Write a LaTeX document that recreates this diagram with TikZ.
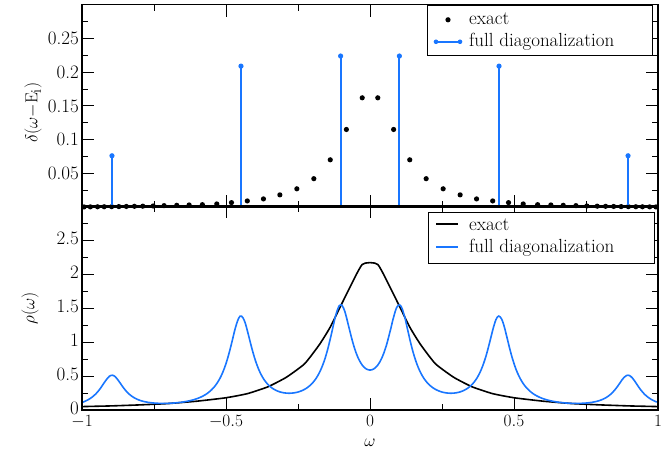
\documentclass[tikz,border=0pt]{standalone}
\definecolor{fdblue}{RGB}{25,118,255}
\begin{document}
\begin{tikzpicture}[x=1pt,y=1pt,
  lbl/.style={font=\fontsize{19}{19}\selectfont, inner sep=1pt},
  fdline/.style={fdblue, line width=1.6pt},
  exline/.style={black, line width=1.6pt},
  axis/.style={line width=1.2pt},
  tk/.style={line width=0.9pt}]
\useasboundingbox (0,0) rectangle (664,452);
\pgfmathdeclarefunction{lz}{2}{\pgfmathparse{0.05/pi/((#1-#2)^2+0.0025)}}
% ---------- top panel ----------
\begin{scope}[shift={(370,245)}, x=288pt, y=674pt]
  \foreach \o/\v in {0.027/.162,0.082/.115,0.138/.070,0.195/.042,0.254/.027,0.313/.018,0.370/.012,0.426/.009,0.481/.0065,0.532/.0045,0.582/.0035,0.628/.003,0.671/.0025,0.715/.002,0.753/.0015,0.789/.0012,0.818/.001,0.846/.0008,0.872/.0006,0.897/.0005,0.923/.0004,0.946/.0003,0.971/.0002,0.993/.0001}{
    \fill (\o,\v) circle (2.6pt);
    \fill (-\o,\v) circle (2.6pt);
  }
  \foreach \e/\w in {-0.896/0.076,-0.448/0.209,-0.102/0.224,0.102/0.224,0.448/0.209,0.896/0.076}{
    \fill[fdblue] ([xshift=-1pt]\e,0) rectangle ([xshift=1pt]\e,\w);
    \fill[fdblue] (\e,\w) circle (2.6pt);
  }
  \foreach \t in {-0.5,0,0.5}{\draw[tk] (\t,0) -- ++(0,12pt); \draw[tk] (\t,0.3) -- ++(0,-12pt);}
  \foreach \t in {-0.75,-0.25,0.25,0.75}{\draw[tk] (\t,0) -- ++(0,6pt); \draw[tk] (\t,0.3) -- ++(0,-6pt);}
  \foreach \t in {0.05,0.1,...,0.26}{\draw[tk] (-1,\t) -- ++(12pt,0); \draw[tk] (1,\t) -- ++(-12pt,0);}
  \foreach \t in {0.025,0.075,...,0.28}{\draw[tk] (-1,\t) -- ++(6pt,0); \draw[tk] (1,\t) -- ++(-6pt,0);}
  \draw[axis] (-1,0) rectangle (1,0.3);
  \foreach \t/\n in {0.05/a,0.1/b,0.15/c,0.2/d,0.25/e}{\node[lbl, anchor=east] (ty\n) at ([xshift=-2pt]-1,\t) {\t};}
  \node[lbl, rotate=90] (ylab1) at ([xshift=-49pt]-1,0.14) {$\delta(\omega\mathrm{-E_i})$};
  \node[draw, line width=0.8pt, fill=white, minimum width=225pt, minimum height=50pt, anchor=north west, inner sep=0pt] (leg1) at ([xshift=57pt]0,0.3) {};
  \node[lbl, anchor=base west] (leg1a) at ([xshift=98pt, yshift=-20pt]0,0.3) {exact};
  \node[lbl, anchor=base west] (leg1b) at ([xshift=98pt, yshift=-42pt]0,0.3) {full diagonalization};
  \fill ([xshift=78pt, yshift=-15pt]0,0.3) circle (2.6pt);
  \draw[fdline] ([xshift=66pt, yshift=-37pt]0,0.3) -- ([xshift=90pt, yshift=-37pt]0,0.3);
  \fill[fdblue] ([xshift=66pt, yshift=-37pt]0,0.3) circle (2.3pt);
  \fill[fdblue] ([xshift=90pt, yshift=-37pt]0,0.3) circle (2.3pt);
\end{scope}
% ---------- bottom panel ----------
\begin{scope}[shift={(370,42)}, x=288pt, y=68pt]
  \draw[exline] plot[smooth, tension=0.3] coordinates {
    (-1,0.05) (-0.95,0.055) (-0.9,0.06) (-0.8,0.075) (-0.7,0.095) (-0.6,0.13) (-0.5,0.18) (-0.426,0.24) (-0.355,0.34) (-0.291,0.48) (-0.227,0.68) (-0.176,0.96) (-0.138,1.22) (-0.082,1.70) (-0.027,2.14)
    (0.027,2.14) (0.082,1.70) (0.138,1.22) (0.176,0.96) (0.227,0.68) (0.291,0.48) (0.355,0.34) (0.426,0.24) (0.5,0.18) (0.6,0.13) (0.7,0.095) (0.8,0.075) (0.9,0.06) (0.95,0.055) (1,0.05)};
  \draw[fdline] plot[domain=-1:1, samples=401, smooth] (\x,
    {0.076*lz(\x,-0.896)+0.209*lz(\x,-0.448)+0.224*lz(\x,-0.102)+0.224*lz(\x,0.102)+0.209*lz(\x,0.448)+0.076*lz(\x,0.896)});
  \foreach \t in {-0.5,0,0.5}{\draw[tk] (\t,0) -- ++(0,12pt); \draw[tk] (\t,3) -- ++(0,-12pt);}
  \foreach \t in {-0.75,-0.25,0.25,0.75}{\draw[tk] (\t,0) -- ++(0,6pt); \draw[tk] (\t,3) -- ++(0,-6pt);}
  \foreach \t in {0.5,1,...,2.6}{\draw[tk] (-1,\t) -- ++(12pt,0); \draw[tk] (1,\t) -- ++(-12pt,0);}
  \foreach \t in {0.25,0.75,...,2.8}{\draw[tk] (-1,\t) -- ++(6pt,0); \draw[tk] (1,\t) -- ++(-6pt,0);}
  \draw[axis] (-1,0) rectangle (1,3);
  \foreach \t/\n in {0/a,0.5/b,1/c,1.5/d,2/e,2.5/f}{\node[lbl, anchor=east] (by\n) at ([xshift=-2pt, yshift=2pt]-1,\t) {\t};}
  \foreach \t/\n in {-1/a,-0.5/b,0/c,0.5/d,1/e}{\node[lbl, anchor=north] (bx\n) at ([yshift=-4pt]\t,0) {$\t$};}
  \node[lbl] (xlab) at ([yshift=-33pt]0,0) {$\omega$};
  \node[lbl, rotate=90] (ylab2) at ([xshift=-52pt]-1,1.5) {$\rho(\omega)$};
  \node[draw, line width=0.8pt, fill=white, minimum width=226pt, minimum height=51pt, anchor=north west, inner sep=0pt] (leg2) at ([xshift=58pt, yshift=-6pt]0,3) {};
  \node[lbl, anchor=base west] (leg2a) at ([xshift=98pt, yshift=-25pt]0,3) {exact};
  \node[lbl, anchor=base west] (leg2b) at ([xshift=98pt, yshift=-47pt]0,3) {full diagonalization};
  \draw[exline] ([xshift=66pt, yshift=-18pt]0,3) -- ([xshift=88pt, yshift=-18pt]0,3);
  \draw[fdline] ([xshift=66pt, yshift=-41pt]0,3) -- ([xshift=88pt, yshift=-41pt]0,3);
\end{scope}
\end{tikzpicture}
\end{document}
